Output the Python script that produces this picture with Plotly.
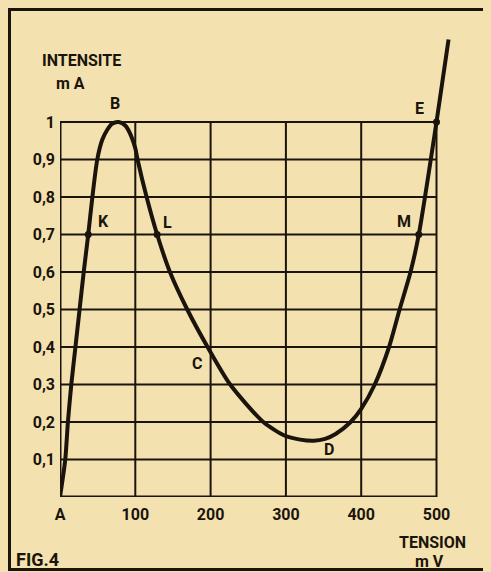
import plotly.graph_objects as go

# ---- data ----
tension_mv = [0, 7, 10.5, 15, 20.5, 26, 31.5, 37.5, 43, 49.5, 56, 63, 69, 78,
              87, 94, 100, 103, 115, 129, 146, 169, 196, 226, 270, 298, 319, 337,
              352, 366, 386, 400, 418, 437, 451, 465.5, 476.5, 500, 516]
intensite_ma = [0, 0.1, 0.2, 0.3, 0.4, 0.5, 0.6, 0.7, 0.8, 0.9, 0.952, 0.98, 0.995, 1.0,
                0.99, 0.965, 0.93, 0.9, 0.8, 0.7, 0.6, 0.5, 0.4, 0.3, 0.2, 0.164, 0.153, 0.150,
                0.155, 0.168, 0.2, 0.235, 0.3, 0.4, 0.5, 0.6, 0.7, 1.0, 1.22]

point_names = ["K", "L", "M", "E"]
point_mv = [37.5, 129, 476.5, 500]
point_ma = [0.7, 0.7, 0.7, 1.0]

x_ticks = [0, 100, 200, 300, 400, 500]
x_tick_labels = ["A", "100", "200", "300", "400", "500"]
y_ticks = [0.1, 0.2, 0.3, 0.4, 0.5, 0.6, 0.7, 0.8, 0.9, 1.0]
y_tick_labels = ["0,1", "0,2", "0,3", "0,4", "0,5", "0,6", "0,7", "0,8", "0,9", "1"]
y_grid = [0.0] + y_ticks

# ---- layout geometry (pixels) ----
OFF = 8                       # page body margin
WIDTH, HEIGHT = 491 - OFF, 572 - OFF
L, T = 60 - OFF, 0
PW = WIDTH - L
PH = 497 - OFF - T
XSCALE = 0.753  # px per mV
YSCALE = 375.0  # px per mA

BG = "#F3E2B0"
INK = "#1b140c"
FONT = "Roboto"


def pxx(xp):
    return (xp - OFF - L) / PW


def pxy(yp):
    return (T + PH - (yp - OFF)) / PH


fig = go.Figure()

fig.add_trace(go.Scatter(
    x=tension_mv, y=intensite_ma, mode="lines",
    line=dict(color=INK, width=4, shape="spline", smoothing=0.7),
    hoverinfo="skip", showlegend=False,
))
fig.add_trace(go.Scatter(
    x=point_mv, y=point_ma, mode="markers",
    marker=dict(color=INK, size=7),
    text=point_names, hoverinfo="text", showlegend=False,
))

shapes = []
for xv in x_ticks:
    shapes.append(dict(type="line", xref="x", yref="y", x0=xv, x1=xv, y0=0, y1=1.0,
                       line=dict(color=INK, width=3 if xv == 0 else 2), layer="below"))
for yv in y_grid:
    shapes.append(dict(type="line", xref="x", yref="y", x0=0, x1=500, y0=yv, y1=yv,
                       line=dict(color=INK, width=3 if yv == 0 else 2), layer="below"))
# outer frame
shapes.append(dict(type="rect", xref="paper", yref="paper",
                   x0=pxx(9.5), x1=pxx(489), y0=pxy(569.5), y1=pxy(9.5),
                   line=dict(color=INK, width=3)))

annotations = []
texts = [
    ("INTENSITE", 81, 61, 16),
    ("m A", 70, 83, 16),
    ("TENSION", 432, 542, 16),
    ("m V", 429, 561, 16),
    ("FIG.4", 37, 559, 18),
    ("B", 115, 104, 16),
    ("K", 103, 221, 16),
    ("L", 167, 222, 16),
    ("C", 197, 363, 16),
    ("D", 329, 449, 16),
    ("M", 404, 221, 16),
    ("E", 419, 108, 16),
]
for txt, xp, yp, fs in texts:
    annotations.append(dict(text=txt, xref="paper", yref="paper", x=pxx(xp), y=pxy(yp),
                            xanchor="center", yanchor="middle", showarrow=False,
                            font=dict(family=FONT, size=fs, color=INK, weight="bold")))

fig.update_layout(
    width=WIDTH, height=HEIGHT,
    margin=dict(l=L, r=WIDTH - L - PW, t=T, b=HEIGHT - T - PH, pad=0, autoexpand=False),
    paper_bgcolor=BG, plot_bgcolor=BG,
    font=dict(family=FONT, color=INK, size=15, weight="bold"),
    shapes=shapes, annotations=annotations,
    xaxis=dict(range=[0, PW / XSCALE], showgrid=False, zeroline=False, showline=False,
               tickvals=x_ticks, ticktext=x_tick_labels, ticks="", ticklabelstandoff=6,
               tickfont=dict(size=16, family=FONT, weight="bold"), fixedrange=True),
    yaxis=dict(range=[0, PH / YSCALE], showgrid=False, zeroline=False, showline=False,
               tickvals=y_ticks, ticktext=y_tick_labels, ticks="", ticklabelstandoff=4,
               tickfont=dict(size=16, family=FONT, weight="bold"), fixedrange=True),
    showlegend=False,
)

fig.write_html("out.html",
               post_script="document.body.style.background='" + BG + "';")
